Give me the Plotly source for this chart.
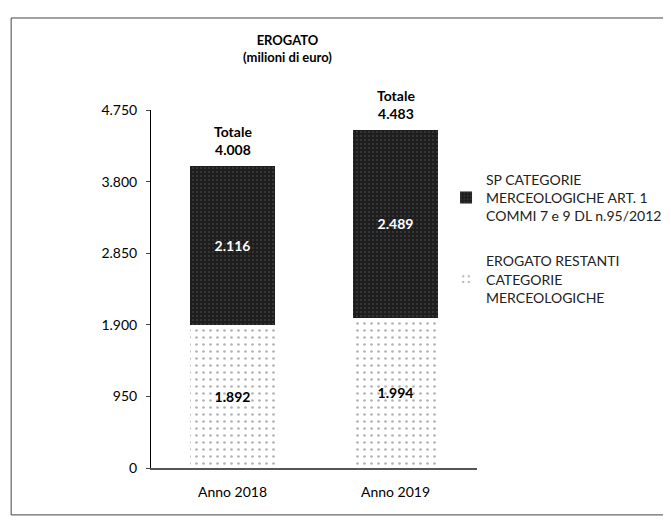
import plotly.graph_objects as go

categories = ["Anno 2018", "Anno 2019"]
restanti = [1892, 1994]
sp_art1 = [2116, 2489]
totali = [4008, 4483]
tick_vals = [0, 950, 1900, 2850, 3800, 4750]
tick_text = ["0", "950", "1.900", "2.850", "3.800", "4.750"]

def it(n):
    return f"{n:,}".replace(",", ".")

FONT = "Lato"

fig = go.Figure()
fig.add_trace(go.Bar(
    x=categories, y=restanti,
    name="EROGATO RESTANTI<br>CATEGORIE<br>MERCEOLOGICHE",
    legendgroup="b", legendrank=2,
    marker=dict(color="white", line=dict(width=0),
                pattern=dict(shape=".", fgcolor="#666666", bgcolor="white", size=7, solidity=0.12)),
    text=[it(v) for v in restanti], textposition="inside", insidetextanchor="middle",
    textfont=dict(color="black", size=14, family=FONT, weight="bold"),
))
fig.add_trace(go.Bar(
    x=categories, y=sp_art1,
    name="SP CATEGORIE<br>MERCEOLOGICHE ART. 1<br>COMMI 7 e 9 DL n.95/2012",
    legendgroup="a", legendrank=1,
    marker=dict(color="#1e1e1e", line=dict(width=0),
                pattern=dict(shape=".", fgcolor="#5a5a5a", bgcolor="#1e1e1e", size=4, solidity=0.2)),
    text=[it(v) for v in sp_art1], textposition="inside", insidetextanchor="middle",
    textfont=dict(color="white", size=14, family=FONT, weight="bold"),
))

for c, t in zip(categories, totali):
    fig.add_annotation(x=c, y=t, text=f"Totale<br>{it(t)}", showarrow=False,
                       yanchor="bottom", yshift=6,
                       font=dict(size=14, family=FONT, color="black", weight="bold"))

fig.add_annotation(xref="paper", yref="paper", x=0.42, y=1.12, text="EROGATO<br>(milioni di euro)",
                   showarrow=False, yanchor="bottom",
                   font=dict(size=13, family=FONT, color="black", weight="bold"))

fig.add_shape(type="rect", xref="paper", yref="paper", x0=-0.429, x1=1.6, y0=-0.131, y1=1.257,
              line=dict(color="#444444", width=1))

fig.update_layout(
    width=671, height=525,
    margin=dict(l=143, r=195, t=102, b=65),
    paper_bgcolor="white", plot_bgcolor="white",
    barmode="stack", bargap=0.48,
    font=dict(family=FONT, size=14, color="black"),
    showlegend=True,
    legend=dict(x=0.905, y=0.85, xanchor="left", yanchor="top", traceorder="grouped",
                tracegroupgap=24, font=dict(size=14, family=FONT, color="#222222"),
                bgcolor="rgba(0,0,0,0)", itemwidth=30),
    xaxis=dict(showline=True, linecolor="#555555", linewidth=1.5, ticks="",
               ticklabelstandoff=10,
               tickfont=dict(size=14, family=FONT), showgrid=False),
    yaxis=dict(range=[0, 4750], tickvals=tick_vals, ticktext=tick_text, showline=True,
               linecolor="black", linewidth=1, ticks="outside", ticklen=4, showgrid=False,
               ticklabelstandoff=6,
               zeroline=False, tickfont=dict(size=14, family=FONT)),
)

fig.write_html("out.html")
